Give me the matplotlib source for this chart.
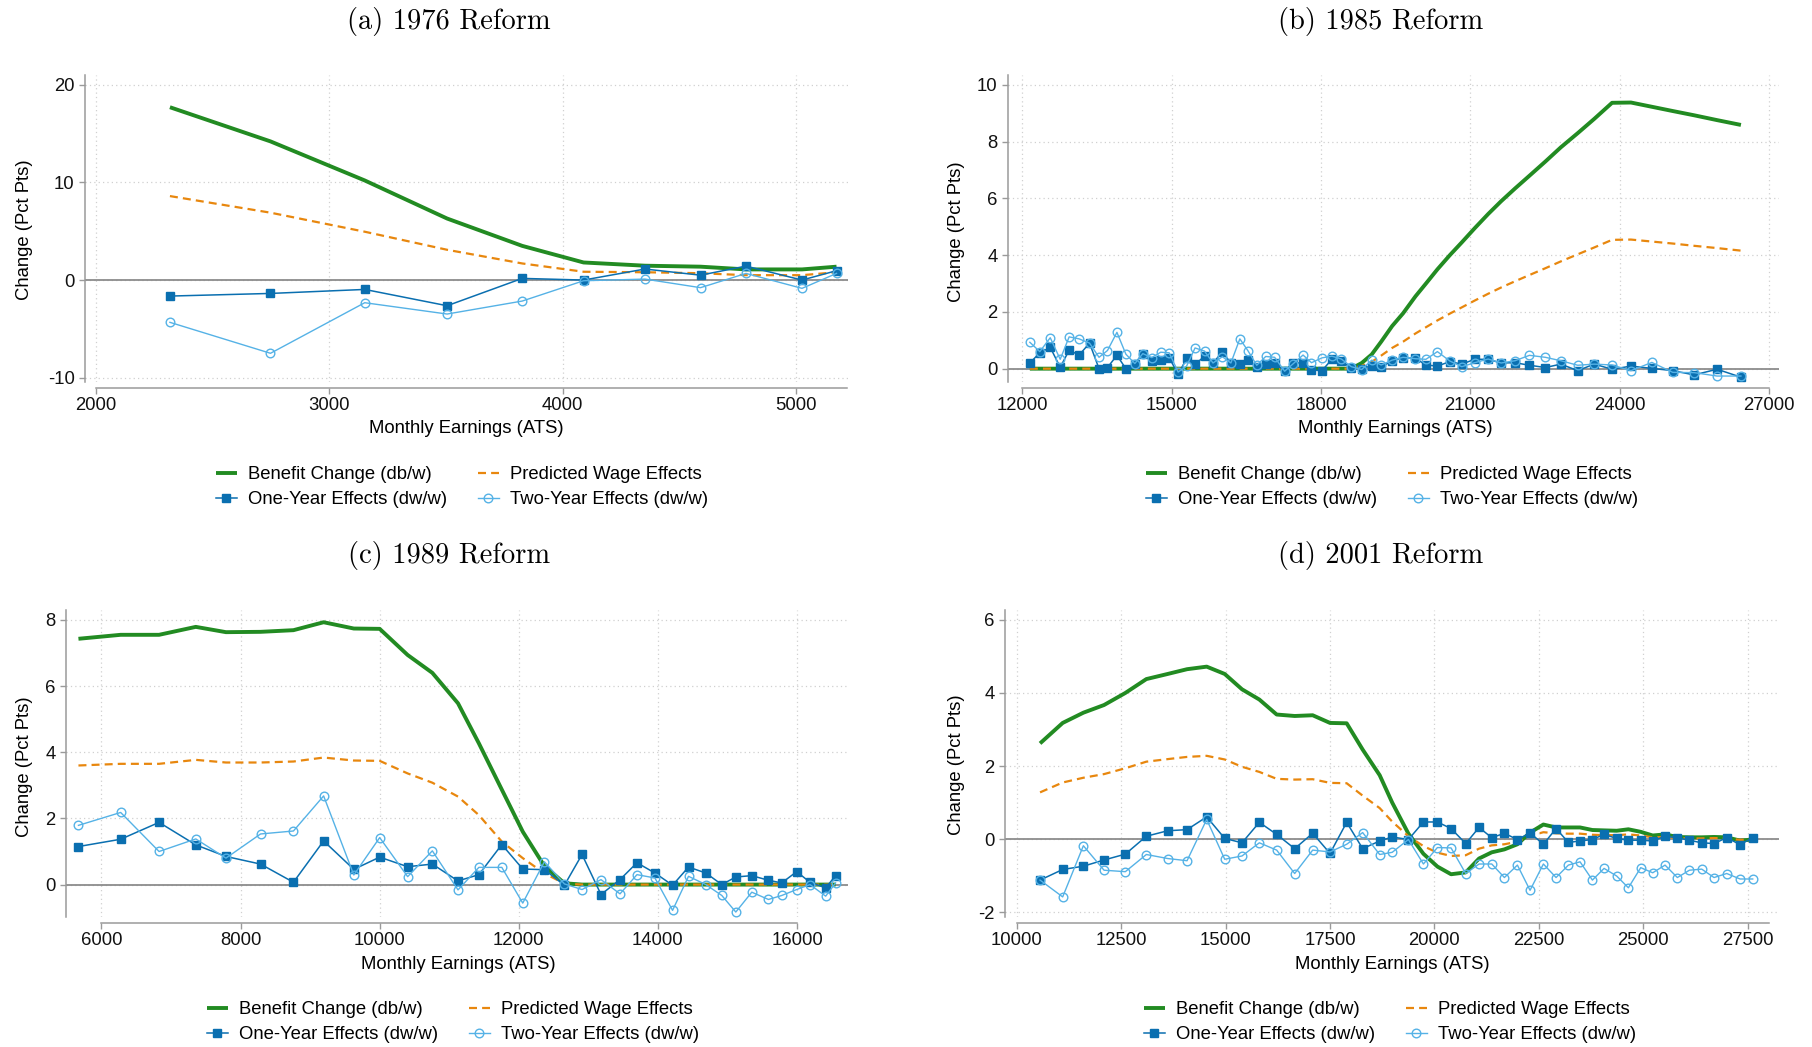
import matplotlib
matplotlib.use("Agg")
import matplotlib.pyplot as plt
from matplotlib.lines import Line2D

plt.rcParams['font.family'] = ['Liberation Sans', 'DejaVu Sans']
plt.rcParams['axes.unicode_minus'] = False

# ---------------- data ----------------
# (a) 1976 Reform
a_x = [2317, 2748, 3152, 3505, 3827, 4090, 4353, 4591, 4786, 5026, 5174]
a_benefit = [17.7, 14.2, 10.2, 6.3, 3.5, 1.8, 1.47, 1.37, 1.09, 1.09, 1.37]
a_wage = [8.6, 6.9, 4.95, 3.1, 1.7, 0.85, 0.8, 0.7, 0.5, 0.5, 0.8]
a_one = [-1.64, -1.37, -0.96, -2.63, 0.17, 0.0, 1.13, 0.5, 1.43, 0.0, 0.96]
a_two = [-4.33, -7.5, -2.32, -3.48, -2.15, -0.07, 0.1, -0.78, 0.68, -0.85, 0.68]

# (b) 1985 Reform
b_x = [12150, 12350, 12560, 12760, 12940, 13140, 13350, 13540, 13710, 13900,
       14080, 14260, 14420, 14600, 14780, 14950, 15130, 15300, 15470, 15660,
       15830, 16020, 16190, 16370, 16530, 16710, 16890, 17070, 17270, 17440,
       17640, 17810, 18020, 18220, 18410, 18610, 18820, 19020, 19210, 19430,
       19650, 19900, 20110, 20340, 20590, 20830, 21090, 21360, 21620, 21900,
       22190, 22510, 22820, 23160, 23490, 23850, 24230, 24650, 25070, 25500,
       25960, 26440]
b_benefit = [0.0] * 36 + [0.2, 0.5, 0.95, 1.5, 1.95, 2.55, 3.0, 3.5, 4.0, 4.45,
                          4.95, 5.45, 5.9, 6.35, 6.8, 7.3, 7.8, 8.3, 8.8, 9.37,
                          9.38, 9.23, 9.08, 8.93, 8.76, 8.59]
b_wage = [0.0] * 36 + [0.1, 0.24, 0.46, 0.73, 0.95, 1.24, 1.46, 1.7, 1.94, 2.16,
                       2.4, 2.64, 2.86, 3.08, 3.3, 3.54, 3.78, 4.03, 4.27, 4.54,
                       4.55, 4.48, 4.41, 4.33, 4.25, 4.16]
b_one = [0.2, 0.56, 0.75, 0.05, 0.65, 0.48, 0.9, 0.0, 0.04, 0.47,
         0.0, 0.18, 0.53, 0.27, 0.31, 0.39, -0.2, 0.36, 0.15, 0.44,
         0.2, 0.59, 0.19, 0.17, 0.29, 0.07, 0.15, 0.2, -0.09, 0.2,
         0.2, -0.05, -0.07, 0.33, 0.28, 0.01, -0.01, 0.11, 0.05, 0.28,
         0.39, 0.36, 0.13, 0.09, 0.25, 0.16, 0.33, 0.33, 0.2, 0.21,
         0.12, 0.04, 0.16, -0.07, 0.16, -0.02, 0.09, 0.01, -0.07, -0.22,
         -0.02, -0.3]
b_two = [0.93, 0.6, 1.09, 0.33, 1.12, 1.05, 0.9, 0.4, 0.64, 1.28,
         0.51, 0.18, 0.53, 0.39, 0.58, 0.56, -0.12, 0.09, 0.73, 0.62,
         0.2, 0.42, 0.2, 1.05, 0.64, 0.12, 0.43, 0.4, -0.09, 0.17,
         0.48, 0.21, 0.38, 0.44, 0.34, 0.07, -0.03, 0.3, 0.13, 0.3,
         0.4, 0.35, 0.33, 0.6, 0.27, 0.07, 0.21, 0.34, 0.2, 0.28,
         0.47, 0.4, 0.28, 0.12, 0.16, 0.13, -0.07, 0.22, -0.13, -0.14,
         -0.26, -0.26]

# (c) 1989 Reform
c_x = [5669, 6276, 6828, 7356, 7790, 8287, 8760, 9194, 9628, 10000,
       10402, 10757, 11126, 11426, 11756, 12057, 12368, 12656, 12909, 13182,
       13455, 13699, 13957, 14211, 14440, 14689, 14919, 15120, 15350, 15589,
       15780, 15995, 16187, 16412, 16555]
c_benefit = [7.43, 7.55, 7.55, 7.79, 7.63, 7.64, 7.69, 7.93, 7.74, 7.73,
             6.94, 6.4, 5.48, 4.27, 2.87, 1.6, 0.56, 0.04] + [0.0] * 17
c_wage = [3.6, 3.65, 3.65, 3.77, 3.69, 3.69, 3.72, 3.84, 3.75, 3.74,
          3.36, 3.08, 2.66, 2.1, 1.3, 0.8, 0.34, 0.03] + [0.0] * 17
c_one = [1.15, 1.37, 1.88, 1.2, 0.85, 0.62, 0.07, 1.32, 0.46, 0.83,
         0.54, 0.62, 0.11, 0.3, 1.21, 0.47, 0.45, -0.02, 0.91, -0.3,
         0.15, 0.66, 0.35, -0.02, 0.53, 0.35, 0.0, 0.23, 0.27, 0.13,
         0.05, 0.39, 0.07, -0.1, 0.27]
c_two = [1.79, 2.18, 1.0, 1.38, 0.8, 1.53, 1.62, 2.68, 0.29, 1.42,
         0.24, 1.02, -0.16, 0.52, 0.52, -0.56, 0.69, 0.02, -0.15, 0.15,
         -0.28, 0.3, 0.2, -0.78, 0.25, 0.0, -0.33, -0.83, -0.23, -0.45,
         -0.33, -0.15, 0.0, -0.35, 0.05]

# (d) 2001 Reform
d_x = [10559, 11101, 11596, 12091, 12601, 13104, 13615, 14078, 14549, 14980,
       15394, 15809, 16224, 16655, 17086, 17501, 17900, 18283, 18690, 18990,
       19378, 19737, 20072, 20399, 20750, 21069, 21373, 21676, 21987, 22290,
       22609, 22913, 23208, 23487, 23783, 24062, 24365, 24644, 24940, 25227,
       25522, 25817, 26105, 26400, 26695, 26998, 27318, 27621]
d_benefit = [2.62, 3.18, 3.46, 3.67, 4.0, 4.38, 4.52, 4.65, 4.72, 4.52,
             4.1, 3.82, 3.41, 3.37, 3.39, 3.18, 3.17, 2.45, 1.75, 1.0,
             0.15, -0.4, -0.75, -0.96, -0.91, -0.53, -0.36, -0.28, -0.14, 0.18,
             0.4, 0.32, 0.32, 0.32, 0.25, 0.24, 0.23, 0.27, 0.2, 0.1,
             0.13, 0.06, 0.05, 0.05, 0.06, 0.05, -0.04, -0.01]
d_wage = [1.28, 1.55, 1.68, 1.78, 1.94, 2.12, 2.19, 2.25, 2.28, 2.18,
          1.98, 1.84, 1.65, 1.63, 1.64, 1.54, 1.53, 1.19, 0.85, 0.48,
          0.08, -0.19, -0.37, -0.46, -0.44, -0.26, -0.17, -0.14, -0.07, 0.09,
          0.19, 0.16, 0.15, 0.15, 0.12, 0.11, 0.11, 0.13, 0.1, 0.05,
          0.06, 0.03, 0.02, 0.02, 0.03, 0.02, -0.02, -0.01]
d_one = [-1.12, -0.83, -0.74, -0.57, -0.41, 0.08, 0.23, 0.26, 0.61, 0.02,
         -0.1, 0.46, 0.13, -0.26, 0.16, -0.39, 0.46, -0.26, -0.05, 0.06,
         -0.01, 0.47, 0.47, 0.29, -0.12, 0.32, 0.04, 0.16, -0.01, 0.17,
         -0.14, 0.29, -0.09, -0.05, -0.01, 0.13, 0.02, -0.03, -0.03, -0.05,
         0.08, 0.04, -0.03, -0.1, -0.12, 0.04, -0.15, 0.04]
d_two = [-1.12, -1.58, -0.18, -0.85, -0.89, -0.42, -0.53, -0.59, 0.54, -0.55,
         -0.46, -0.1, -0.3, -0.94, -0.3, -0.35, -0.14, 0.18, -0.42, -0.36,
         -0.01, -0.68, -0.23, -0.24, -0.94, -0.68, -0.68, -1.05, -0.71, -1.4,
         -0.68, -1.05, -0.71, -0.62, -1.12, -0.8, -1.01, -1.33, -0.78, -0.92,
         -0.71, -1.05, -0.85, -0.82, -1.05, -0.94, -1.09, -1.09]

titles = ["(a) 1976 Reform", "(b) 1985 Reform", "(c) 1989 Reform", "(d) 2001 Reform"]
xticks_list = [[2000, 3000, 4000, 5000],
               [12000, 15000, 18000, 21000, 24000, 27000],
               [6000, 8000, 10000, 12000, 14000, 16000],
               [10000, 12500, 15000, 17500, 20000, 22500, 25000, 27500]]
yticks_list = [[-10, 0, 10, 20], [0, 2, 4, 6, 8, 10], [0, 2, 4, 6, 8], [-2, 0, 2, 4, 6]]
labels = ["Benefit Change (db/w)", "One-Year Effects (dw/w)",
          "Predicted Wage Effects", "Two-Year Effects (dw/w)"]
xlabel = "Monthly Earnings (ATS)"
ylabel = "Change (Pct Pts)"

# ---------------- styling ----------------
W, H = 1812, 1047
fig = plt.figure(figsize=(W / 100, H / 100), dpi=100)

GREEN = '#228B22'
ORANGE = '#E8870E'
DBLUE = '#0A6FB0'
LBLUE = '#55B2E6'
GRAY = '#9a9a9a'
FS = 13.3

# plot regions in pixels: left, right, top, bottom
rects = [(85, 847.5, 75, 382), (1008, 1779, 75, 382),
         (66, 847.5, 610, 917), (1005, 1779, 610, 917)]
xlims = [(1953, 5221), (11711, 27205), (5490, 16726), (9720, 28250)]
ylims = [(-10.44, 21.0), (-0.47, 10.35), (-0.98, 8.3), (-2.13, 6.27)]
spine_bounds = [(2000, 5221), (12000, 27000), (6000, 16000), (10000, 28000)]
title_pos = [(449, 21), (1381, 21), (449, 556), (1381, 556)]
ylab_pos = [(33, 230), (965, 232), (33, 767), (965, 765)]
xlab_pos = [(466, 420), (1395, 420), (458, 956), (1392, 956)]
leg_pos = [(462, 487), (1392, 487), (453, 1022), (1390, 1022)]

data = [(a_x, a_benefit, a_wage, a_one, a_two),
        (b_x, b_benefit, b_wage, b_one, b_two),
        (c_x, c_benefit, c_wage, c_one, c_two),
        (d_x, d_benefit, d_wage, d_one, d_two)]


def frac_rect(r):
    l, rr, t, b = r
    return [l / W, 1 - b / H, (rr - l) / W, (b - t) / H]


def ax_coords(r, px, py):
    l, rr, t, b = r
    return (px - l) / (rr - l), (b - py) / (b - t)


for i in range(4):
    R = rects[i]
    ax = fig.add_axes(frac_rect(R))
    x, ben, wage, one, two = data[i]
    ax.set_xlim(*xlims[i])
    ax.set_ylim(*ylims[i])
    ax.set_xticks(xticks_list[i])
    ax.set_yticks(yticks_list[i])
    ax.grid(True, color='#d0d0d0', linestyle=(0, (1, 2.5)), linewidth=0.9, zorder=0)
    ax.set_axisbelow(True)
    ax.axhline(0, color='#8c8c8c', lw=1.3, zorder=1)

    h1, = ax.plot(x, ben, color=GREEN, lw=2.8, zorder=3, solid_capstyle='butt')
    h2, = ax.plot(x, wage, color=ORANGE, lw=1.6, dashes=(3.6, 2.3), zorder=4)
    h3, = ax.plot(x, one, color=DBLUE, lw=1.1, marker='s', ms=6.2, mec=DBLUE, mfc=DBLUE, zorder=5)
    h4, = ax.plot(x, two, color=LBLUE, lw=1.0, marker='o', ms=6.2, mfc='none', mec=LBLUE, mew=1.0, zorder=6)

    for s in ['top', 'right']:
        ax.spines[s].set_visible(False)
    for s in ['left', 'bottom']:
        ax.spines[s].set_color(GRAY)
        ax.spines[s].set_linewidth(1.1)
    ax.spines['bottom'].set_position(('outward', 4.5))
    ax.spines['bottom'].set_bounds(*spine_bounds[i])
    ax.tick_params(axis='both', direction='out', length=4, width=1, color=GRAY,
                   labelsize=FS, labelcolor='#111111')
    ax.tick_params(axis='x', pad=2.5)
    ax.tick_params(axis='y', pad=3.5)

    ax.set_xlabel(xlabel, fontsize=FS)
    ax.xaxis.set_label_coords(*ax_coords(R, *xlab_pos[i]))
    ax.set_ylabel(ylabel, fontsize=FS)
    ax.yaxis.set_label_coords(*ax_coords(R, *ylab_pos[i]))

    fig.text(title_pos[i][0] / W, 1 - title_pos[i][1] / H, titles[i],
             fontfamily='cmr10', fontsize=20.5, ha='center', va='center')

    lx, ly = leg_pos[i]
    ax.legend([h1, h3, h2, h4], labels, ncol=2, frameon=False, fontsize=FS,
              loc='center', bbox_to_anchor=(lx / W, 1 - ly / H),
              bbox_transform=fig.transFigure, handlelength=1.1, handletextpad=0.6,
              columnspacing=1.7, labelspacing=0.43, borderaxespad=0, borderpad=0)

fig.savefig("out.png", dpi=100)
